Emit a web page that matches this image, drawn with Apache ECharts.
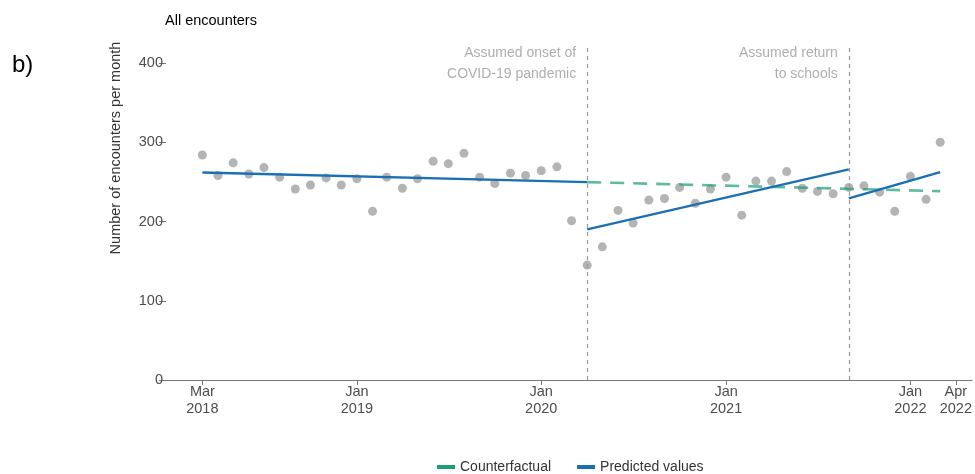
<!DOCTYPE html>
<html>
<head>
<meta charset="utf-8">
<script src="https://cdn.jsdelivr.net/npm/echarts@6/dist/echarts.min.js"></script>
<style>
html,body{margin:0;padding:0;background:#fff;}
#chart{width:975px;height:474px;}
</style>
</head>
<body>
<div id="chart"></div>
<script>
// ---- data ----
var startYear = 2018, startMonth = 3; // first observation: Mar 2018
var encounters = [284, 258, 274, 260, 268, 256, 241, 246, 255, 246, 254, 213, 256,
                  242, 254, 276, 273, 286, 256, 248, 261, 258, 264, 269, 201,
                  145, 168, 214, 198, 227, 229, 243, 223, 241, 256, 208, 251, 251,
                  263, 242, 238, 235, 243, 245, 237, 213, 257, 228, 300];
var predictedPre = [['2018-03-01', 261.9], ['2020-04-01', 249.7]];
var predictedPandemic = [['2020-04-01', 190.0], ['2021-09-01', 265.7]];
var predictedSchools = [['2021-09-01', 229.1], ['2022-03-01', 262.3]];
var counterfactual = [['2020-04-01', 249.7], ['2022-03-01', 238.3]];
var eventDates = ['2020-04-01', '2021-09-01'];
var eventLabels = ['Assumed onset of\nCOVID-19 pandemic', 'Assumed return\nto schools'];
var tickDates = ['2018-03-01', '2019-01-01', '2020-01-01', '2021-01-01', '2022-01-01', '2022-04-01'];
var tickLabels = ['Mar\n2018', 'Jan\n2019', 'Jan\n2020', 'Jan\n2021', 'Jan\n2022', 'Apr\n2022'];
var yTicks = [0, 100, 200, 300, 400];

// ---- helpers ----
function ts(s) { var p = s.split('-'); return Date.UTC(+p[0], +p[1] - 1, +p[2]); }
var pointData = encounters.map(function (v, i) {
  return [Date.UTC(startYear, startMonth - 1 + i, 1), v];
});
function toXY(arr) { return arr.map(function (d) { return [ts(d[0]), d[1]]; }); }
var tickTs = tickDates.map(ts);
var labelMap = {};
tickTs.forEach(function (t, i) { labelMap[t] = tickLabels[i]; });

var chart = echarts.init(document.getElementById('chart'), null, {renderer: 'canvas'});
var FONT = 'Liberation Sans, Arial, sans-serif';
var BLUE = '#1a70b5';
var GREEN = '#1b9e77';

var option = {
  animation: false,
  backgroundColor: '#ffffff',
  textStyle: {fontFamily: FONT},
  grid: {left: 166, right: 0, top: 44, bottom: 94, containLabel: false},
  title: {
    text: 'All encounters', left: 160, top: 8,
    textStyle: {fontFamily: FONT, fontSize: 14.5, fontWeight: 'normal', color: '#000'}
  },
  graphic: [
    {type: 'text', left: 12, top: 53, style: {text: 'b)', font: '24px ' + FONT, fill: '#000'}},
    {type: 'text', x: 116, y: 148, rotation: Math.PI / 2,
     style: {text: 'Number of encounters per month', font: '14.5px ' + FONT, fill: '#333',
             align: 'center', verticalAlign: 'middle'}}
  ],
  legend: {
    left: 432, top: 455,
    itemWidth: 18, itemHeight: 4, itemGap: 26,
    icon: 'rect',
    textStyle: {fontFamily: FONT, fontSize: 14, color: '#333'},
    data: [
      {name: 'Counterfactual', itemStyle: {color: GREEN}},
      {name: 'Predicted values', itemStyle: {color: BLUE}}
    ]
  },
  xAxis: {
    type: 'value',
    min: Date.UTC(2017, 11, 19),
    max: Date.UTC(2022, 4, 3),
    splitLine: {show: false},
    axisLine: {show: true, lineStyle: {color: '#777', width: 1}},
    axisTick: {show: true, length: 5, customValues: tickTs, lineStyle: {color: '#777'}},
    axisLabel: {
      customValues: tickTs,
      margin: 3,
      fontFamily: FONT, fontSize: 14.5, color: '#4d4d4d', lineHeight: 17,
      formatter: function (v) { return labelMap[v] || ''; }
    }
  },
  yAxis: {
    type: 'value', min: 0, max: 424, interval: 100,
    splitLine: {show: false},
    axisLine: {show: false},
    axisTick: {show: true, length: 7, customValues: yTicks, lineStyle: {color: '#777'}},
    axisLabel: {customValues: yTicks, margin: 3, fontFamily: FONT, fontSize: 14.5, color: '#4d4d4d'}
  },
  series: [
    {
      name: 'events', type: 'scatter', symbolSize: 0, silent: true,
      data: eventDates.map(function (d) { return [ts(d), 399]; }),
      label: {
        show: true, position: 'left', distance: 11,
        formatter: function (p) { return eventLabels[p.dataIndex]; },
        fontFamily: FONT, fontSize: 14, color: '#9a9a9a', align: 'right', lineHeight: 21
      },
      markLine: {
        silent: true, symbol: 'none',
        label: {show: false},
        lineStyle: {color: '#9a9a9a', type: [4, 4], width: 1.2},
        data: eventDates.map(function (d) { return {xAxis: ts(d)}; })
      },
      z: 1
    },
    {
      name: 'Observed', type: 'scatter', symbolSize: 9,
      itemStyle: {color: 'rgba(130,130,130,0.75)'},
      data: pointData, z: 2
    },
    {
      name: 'Counterfactual', type: 'line', data: toXY(counterfactual),
      showSymbol: false, symbol: 'none',
      lineStyle: {color: GREEN, width: 2.6, type: [14, 9], opacity: 0.7},
      itemStyle: {color: GREEN}, z: 3
    },
    {
      name: 'Predicted values', type: 'line', data: toXY(predictedPre),
      showSymbol: false, symbol: 'none',
      lineStyle: {color: BLUE, width: 2.4}, itemStyle: {color: BLUE}, z: 4
    },
    {
      name: 'Predicted values', type: 'line', data: toXY(predictedPandemic),
      showSymbol: false, symbol: 'none',
      lineStyle: {color: BLUE, width: 2.4}, itemStyle: {color: BLUE}, z: 4
    },
    {
      name: 'Predicted values', type: 'line', data: toXY(predictedSchools),
      showSymbol: false, symbol: 'none',
      lineStyle: {color: BLUE, width: 2.4}, itemStyle: {color: BLUE}, z: 4
    }
  ]
};
chart.setOption(option);
</script>
</body>
</html>
